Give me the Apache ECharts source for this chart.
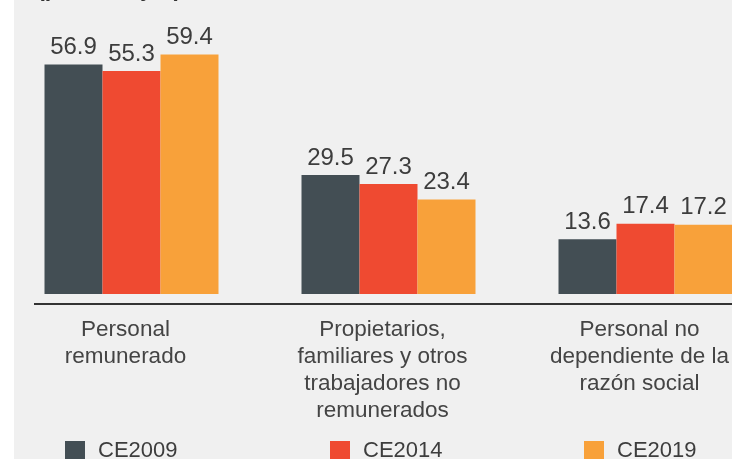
<!DOCTYPE html>
<html>
<head>
<meta charset="utf-8">
<script src="https://cdn.jsdelivr.net/npm/echarts@6/dist/echarts.min.js"></script>
<style>
  html, body { margin: 0; padding: 0; background: #ffffff; }
  #wrap { position: absolute; left: 14px; top: 0; width: 718px; height: 459px; background: #f0f0f0; overflow: hidden; }
  #chart { position: absolute; left: -11px; top: 0; width: 800px; height: 459px; }
</style>
</head>
<body>
<div id="wrap"><div id="chart"></div></div>
<script>
// categorias y valores (%)
const categories = [
  "Personal\nremunerado",
  "Propietarios,\nfamiliares y otros\ntrabajadores no\nremunerados",
  "Personal no\ndependiente de la\nrazón social"
];
const ce2009 = [56.9, 29.5, 13.6];
const ce2014 = [55.3, 27.3, 17.4];
const ce2019 = [59.4, 23.4, 17.2];
const seriesNames = ["CE2009", "CE2014", "CE2019"];
const colors = ["#434e54", "#ef4a31", "#f8a13a"];

let myChart = echarts.init(document.getElementById("chart"));
const font = "'Liberation Sans', Arial, sans-serif";

function makeLegend(i, left) {
  return {
    data: [seriesNames[i]],
    left: left,
    top: 440,
    padding: 0,
    icon: "rect",
    itemWidth: 20,
    itemHeight: 20,
    textStyle: { fontSize: 22, color: "#3d3d3d", fontFamily: font, padding: [0, 0, 0, 8] }
  };
}

function makeSeries(i, data) {
  return {
    name: seriesNames[i],
    type: "bar",
    data: data,
    barWidth: 58,
    barGap: "0%",
    itemStyle: { color: colors[i] },
    label: {
      show: true,
      position: "top",
      distance: 5,
      fontSize: 24,
      color: "#3d3d3d",
      fontFamily: font
    }
  };
}

let option = {
  animation: false,
  title: {
    text: "(porcentajes)",
    left: 34,
    top: -22,
    padding: 0,
    textStyle: { fontSize: 23, fontWeight: "bold", color: "#333", fontFamily: font }
  },
  legend: [makeLegend(0, 62), makeLegend(1, 327), makeLegend(2, 581)],
  grid: { left: 0, right: 29, top: 52, bottom: 165, containLabel: false },
  xAxis: {
    type: "category",
    data: categories,
    axisLine: { show: false },
    axisTick: { show: false },
    axisLabel: {
      margin: 22,
      fontSize: 22.5,
      lineHeight: 27,
      color: "#444",
      fontFamily: font,
      padding: [0, 12, 0, 0],
      interval: 0
    }
  },
  yAxis: {
    type: "value",
    min: 0,
    max: 60,
    show: false
  },
  // linea base del eje
  graphic: [{
    type: "line",
    shape: { x1: 31, y1: 304, x2: 729, y2: 304 },
    style: { stroke: "#333", lineWidth: 2 }
  }],
  series: [makeSeries(0, ce2009), makeSeries(1, ce2014), makeSeries(2, ce2019)]
};
option && myChart.setOption(option);
</script>
</body>
</html>
